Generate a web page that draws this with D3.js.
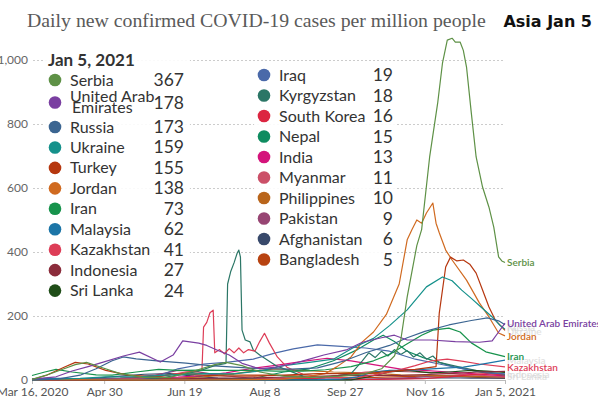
<!DOCTYPE html>
<html>
<head>
<meta charset="utf-8">
<script src="https://d3js.org/d3.v7.min.js"></script>
<style>
  body { margin: 0; background: #fff; }
  svg { font-family: Lato, "Open Sans", sans-serif; }
</style>
</head>
<body>
<svg id="chart" width="598" height="397"></svg>
<script>
// ---- data (values are new cases per million, 7-day avg) ----
// dates are "MM-DD"; January is 2021, everything else 2020
const countries = ["Serbia", "United Arab Emirates", "Russia", "Ukraine", "Turkey", "Jordan", "Iran",
  "Malaysia", "Kazakhstan", "Indonesia", "Sri Lanka", "Iraq", "Kyrgyzstan", "South Korea", "Nepal",
  "India", "Myanmar", "Philippines", "Pakistan", "Afghanistan", "Bangladesh"];
const latest = [367, 178, 173, 159, 155, 138, 73, 62, 41, 27, 24, 19, 18, 16, 15, 13, 11, 10, 9, 6, 5];
const colors = ["#5e9146", "#7a3fa1", "#3b6591", "#15918b", "#b6370f", "#d06a20", "#17934c",
  "#1c75a7", "#dd3d57", "#8b2c3b", "#1f4d18", "#4a69a9", "#2b7666", "#dc2641", "#0f8c60",
  "#d4137b", "#cb5068", "#b9651b", "#974573", "#38496b", "#b84311"];

const serbia = [["03-16",2],["03-25",15],["04-05",35],["04-12",48],["04-19",55],["04-28",40],["05-10",20],
  ["05-25",8],["06-10",8],["06-25",28],["07-08",48],["07-15",55],["07-25",45],["08-05",25],["08-20",12],
  ["09-05",8],["09-25",12],["10-10",20],["10-20",35],["10-28",75],["11-01",125],["11-05",260],["11-11",420],
  ["11-14",470],["11-19",697],["11-24",865],["11-27",990],["11-30",1062],["12-03",1068],["12-05",1056],
  ["12-08",1056],["12-10",1030],["12-12",978],["12-15",834],["12-18",697],["12-22",603],["12-26",540],
  ["12-29",478],["01-01",385],["01-03",372],["01-05",367]];
const uae = [["03-16",3],["03-31",10],["04-10",28],["04-20",42],["05-01",58],["05-12",75],["05-22",87],
  ["06-04",56],["06-12",78],["06-18",122],["06-28",115],["07-03",108],["07-10",92],["07-17",78],["07-25",52],
  ["08-05",35],["08-15",40],["08-25",50],["09-05",65],["09-14",78],["09-28",94],["10-08",118],["10-20",132],
  ["10-28",140],["11-05",125],["11-20",125],["12-05",120],["12-20",118],["12-28",122],["01-01",150],["01-05",178]];
const russia = [["03-16",0],["04-01",3],["04-15",15],["04-25",35],["05-05",60],["05-12",72],["05-20",66],
  ["06-02",60],["06-20",53],["07-05",45],["07-20",40],["08-05",36],["08-25",34],["09-10",38],["09-27",60],
  ["10-10",85],["10-25",108],["11-05",132],["11-16",152],["12-01",172],["12-15",186],["12-25",194],
  ["01-01",185],["01-05",173]];
const ukraine = [["03-16",0],["04-15",5],["05-01",10],["05-20",10],["06-10",16],["07-01",20],["07-20",19],
  ["08-05",28],["08-20",45],["09-05",55],["09-20",65],["10-02",100],["10-15",130],["10-25",170],["11-05",219],
  ["11-17",291],["11-27",322],["12-03",310],["12-09",281],["12-15",255],["12-21",228],["12-28",197],
  ["01-02",170],["01-05",159]];
const turkey = [["03-16",1],["03-25",15],["04-05",40],["04-12",55],["04-20",50],["05-01",30],["05-15",15],
  ["06-01",10],["06-12",18],["06-25",17],["07-10",13],["08-01",12],["08-20",15],["09-10",20],["09-25",20],
  ["10-10",20],["10-25",27],["11-10",33],["11-23",42],["11-25",209],["11-29",353],["12-02",384],
  ["12-06",372],["12-10",375],["12-14",362],["12-18",334],["12-22",281],["12-26",228],["12-30",187],
  ["01-03",166],["01-05",155]];
const jordan = [["03-16",0],["04-01",1],["05-01",0.5],["06-01",0.5],["07-01",0.5],["08-01",1],["08-20",3],
  ["09-01",8],["09-15",20],["09-22",41],["10-01",72],["10-08",119],["10-15",150],["10-23",205],["10-31",300],
  ["11-05",438],["11-08",470],["11-11",500],["11-14",490],["11-17",522],["11-21",553],["11-23",490],
  ["11-25",460],["11-29",406],["12-03",375],["12-12",312],["12-20",241],["12-26",197],["01-01",147],["01-05",138]];
const iran = [["03-16",14],["03-24",25],["03-31",33],["04-10",25],["04-25",16],["05-05",15],["05-20",25],
  ["06-03",33],["06-15",30],["07-01",31],["07-15",30],["08-01",30],["08-15",28],["09-01",28],["09-15",32],
  ["10-01",42],["10-15",60],["10-25",80],["11-04",110],["11-14",140],["11-21",156],["12-01",162],
  ["12-08",150],["12-15",116],["12-24",88],["01-05",73]];
const malaysia = [["03-16",3],["03-25",5],["04-05",5],["04-20",3],["05-10",2],["06-10",1],["07-10",0.5],
  ["08-10",0.5],["09-10",1],["09-25",3],["10-05",10],["10-15",25],["10-25",30],["11-05",30],["11-20",35],
  ["12-01",38],["12-10",40],["12-20",48],["12-28",55],["01-05",62]];
const kazakhstan = [["03-16",0],["04-10",1],["05-01",3],["05-20",5],["06-05",12],["06-20",25],["06-30",31],
  ["07-01",165],["07-03",180],["07-05",210],["07-07",218],["07-08",85],["07-11",95],["07-14",82],
  ["07-17",98],["07-20",85],["07-23",100],["07-26",85],["07-29",95],["08-02",90],["08-05",120],
  ["08-08",146],["08-11",116],["08-16",72],["08-22",40],["09-01",18],["09-15",8],["10-01",6],["10-15",15],
  ["10-30",30],["11-10",45],["11-20",60],["11-30",65],["12-10",58],["12-20",50],["01-05",41]];
const indonesia = [["03-16",0],["05-01",1],["06-01",2],["07-01",5],["08-01",7],["09-01",10],["10-01",15],
  ["11-01",14],["12-01",20],["12-20",25],["01-05",27]];
const sriLanka = [["03-16",0],["10-01",0.5],["10-10",8],["10-25",25],["11-05",30],["11-20",22],["12-01",25],
  ["12-15",30],["12-25",28],["01-05",24]];
const iraq = [["03-16",0],["05-01",1],["05-20",3],["06-01",10],["06-15",35],["07-01",50],["07-15",55],
  ["08-01",65],["08-15",85],["08-26",97],["09-10",110],["09-25",105],["10-10",100],["10-25",90],
  ["11-10",65],["11-25",50],["12-10",35],["12-25",22],["01-05",19]];
const kyrgyzstan = [["03-16",0],["04-15",2],["05-15",2],["06-01",4],["06-15",15],["06-28",28],["07-08",45],
  ["07-15",52],["07-16",300],["07-18",340],["07-20",366],["07-22",397],["07-23",406],["07-24",384],
  ["07-25",156],["07-27",125],["07-30",119],["08-01",94],["08-05",78],["08-15",45],["09-01",12],
  ["09-15",8],["10-01",20],["10-08",60],["10-12",85],["10-16",70],["10-20",90],["10-24",75],["10-28",95],
  ["11-01",80],["11-05",92],["11-09",72],["11-13",85],["11-17",65],["11-21",75],["11-25",55],["12-01",48],
  ["12-10",38],["12-20",28],["01-05",18]];
const southKorea = [["03-16",3],["04-01",2],["05-01",0.2],["06-01",0.7],["07-01",1],["08-15",3],["08-28",6],
  ["09-15",2.5],["10-15",1.5],["11-15",4],["12-01",10],["12-15",17],["12-25",20],["01-05",16]];
const nepal = [["03-16",0],["07-01",2],["08-01",5],["08-20",25],["09-05",35],["09-20",60],["10-05",95],
  ["10-15",125],["10-21",140],["10-28",120],["11-05",90],["11-15",70],["11-25",55],["12-05",40],
  ["12-20",25],["01-05",15]];
const india = [["03-16",0],["04-15",1],["05-15",3],["06-15",9],["07-01",14],["07-15",22],["08-01",37],
  ["08-15",46],["09-01",58],["09-16",68],["10-01",60],["10-15",48],["11-01",34],["11-15",30],["12-01",25],
  ["12-15",20],["01-05",13]];
const myanmar = [["03-16",0],["08-25",0.5],["09-10",5],["09-25",15],["10-10",25],["10-25",28],["11-10",25],
  ["11-25",22],["12-10",17],["01-05",11]];
const philippines = [["03-16",0.5],["04-10",2],["05-10",2],["06-10",5],["07-01",10],["07-20",20],
  ["08-05",30],["08-15",35],["09-01",30],["09-20",25],["10-10",22],["11-01",16],["11-20",14],["12-10",12],
  ["01-05",10]];
const pakistan = [["03-16",0.5],["04-15",2],["05-10",6],["06-01",15],["06-15",30],["06-25",28],["07-10",15],
  ["08-01",5],["08-20",3],["09-15",3],["10-15",3],["11-10",8],["11-25",14],["12-10",13],["01-05",9]];
const afghanistan = [["03-16",0],["04-15",2],["05-10",12],["05-25",18],["06-10",20],["06-25",12],
  ["07-10",6],["08-01",2],["09-01",1],["10-01",1],["11-10",5],["12-01",7],["12-15",6],["01-05",6]];
const bangladesh = [["03-16",0],["04-15",1],["05-10",5],["06-01",11],["06-20",22],["07-05",20],["07-20",16],
  ["08-10",15],["09-01",12],["09-20",9],["10-15",8],["11-15",12],["12-01",13],["12-15",9],["01-05",5]];

const seriesData = [serbia, uae, russia, ukraine, turkey, jordan, iran, malaysia, kazakhstan, indonesia,
  sriLanka, iraq, kyrgyzstan, southKorea, nepal, india, myanmar, philippines, pakistan, afghanistan, bangladesh];

const yTicks = [0, 200, 400, 600, 800, 1000];
const xTickDates = ["03-16", "04-30", "06-19", "08-08", "09-27", "11-16", "01-05"];
const xTickLabels = ["Mar 16, 2020", "Apr 30", "Jun 19", "Aug 8", "Sep 27", "Nov 16", "Jan 5, 2021"];

// ---- helpers ----
const parse = d3.timeParse("%Y-%m-%d");
function toDate(md) { return parse((md.startsWith("01") ? "2021-" : "2020-") + md); }

const svg = d3.select("#chart");

const x = d3.scaleTime().domain([toDate("03-16"), toDate("01-05")]).range([32, 505]);
const y = d3.scaleLinear().domain([0, 1000]).range([380, 60]);

// title
svg.append("text").attr("x", 27).attr("y", 27)
  .style("font-family", "Georgia, 'Liberation Serif', 'DejaVu Serif', serif")
  .style("font-size", "19.8px").attr("fill", "#5a5a5a")
  .text("Daily new confirmed COVID-19 cases per million people");
svg.append("text").attr("x", 592).attr("y", 27).attr("text-anchor", "end")
  .style("font-family", "'DejaVu Sans', sans-serif").style("font-weight", "bold")
  .style("font-size", "16px").attr("fill", "#111")
  .text("Asia Jan 5");

// y axis + grid
const yAxis = svg.append("g").attr("transform", "translate(33,0)")
  .call(d3.axisLeft(y).tickValues(yTicks).tickSize(-472).tickPadding(5).tickFormat(d3.format(",")));
yAxis.select(".domain").remove();
yAxis.selectAll(".tick line").attr("stroke", "#ccc").attr("stroke-dasharray", "2,2");
yAxis.selectAll(".tick text").attr("fill", "#666").style("font-size", "12px").style("font-family", "Lato, sans-serif");

// x axis
const xAxis = svg.append("g").attr("transform", "translate(0,380)")
  .call(d3.axisBottom(x).tickValues(xTickDates.map(toDate)).tickSize(4).tickPadding(3)
    .tickFormat((d, i) => xTickLabels[i]));
xAxis.select(".domain").attr("stroke", "#bbb");
xAxis.selectAll(".tick line").attr("stroke", "#bbb");
xAxis.selectAll(".tick text").attr("fill", "#555").style("font-size", "12px").style("font-family", "Lato, sans-serif");

// lines (smaller countries first so big ones sit on top)
const line = d3.line().x(d => x(toDate(d[0]))).y(d => y(d[1]));
const lines = svg.append("g");
for (let i = seriesData.length - 1; i >= 0; i--) {
  lines.append("path").datum(seriesData[i])
    .attr("d", line)
    .attr("fill", "none")
    .attr("stroke", colors[i])
    .attr("stroke-width", 1.2)
    .attr("stroke-linejoin", "round");
}

// end labels (some are faded out behind the others, as in the original)
const endLabels = [
  { name: "Serbia", ly: 266, faded: false },
  { name: "Russia", ly: 331, faded: true },
  { name: "Ukraine", ly: 335, faded: true },
  { name: "United Arab Emirates", ly: 327, faded: false },
  { name: "Jordan", ly: 339.5, faded: false },
  { name: "Malaysia", ly: 364, faded: true },
  { name: "Iran", ly: 360, faded: false },
  { name: "Indonesia", ly: 378, faded: true },
  { name: "Sri Lanka", ly: 380, faded: true },
  { name: "Kazakhstan", ly: 371, faded: false }
];
const labelG = svg.append("g").style("font-size", "10px").style("font-weight", "600");
endLabels.forEach(l => {
  const i = countries.indexOf(l.name);
  labelG.append("text")
    .attr("x", 507)
    .attr("y", l.ly)
    .attr("fill", l.faded ? "#d4d4d4" : colors[i])
    .attr("opacity", l.faded ? 0.7 : 1)
    .text(l.name);
});

// legend
const leftRows = countries.slice(0, 11);
const rightRows = countries.slice(11);
const leftY = [80, 102.5, 127];
for (let k = 3; k < leftRows.length; k++) leftY.push(127 + (k - 2) * 20.45);
const rightY = rightRows.map((d, k) => 75 + k * 20.5);

const legend = svg.append("g");
legend.append("rect").attr("x", 44).attr("y", 47).attr("width", 146).attr("height", 256)
  .attr("fill", "#fff").attr("opacity", 0.9);
legend.append("rect").attr("x", 254).attr("y", 64).attr("width", 142).attr("height", 208)
  .attr("fill", "#fff").attr("opacity", 0.9);
legend.append("text").attr("x", 48).attr("y", 66)
  .style("font-size", "17px").style("font-weight", "bold").attr("fill", "#333")
  .text("Jan 5, 2021");

function legendRow(name, cy, cx, valueX) {
  const i = countries.indexOf(name);
  const g = legend.append("g");
  g.append("circle").attr("cx", cx).attr("cy", cy).attr("r", 6.3).attr("fill", colors[i]);
  if (name === "United Arab Emirates") {
    g.append("text").attr("x", cx + 15).attr("y", cy - 0.5).style("font-size", "16px").attr("fill", "#333")
      .text("United Arab");
    g.append("text").attr("x", cx + 17).attr("y", cy + 10.5).style("font-size", "16px").attr("fill", "#333")
      .text("Emirates");
  } else {
    g.append("text").attr("x", cx + 15).attr("y", cy + 5.5).style("font-size", "16px").attr("fill", "#333")
      .text(name);
  }
  g.append("text").attr("x", valueX).attr("y", cy + 6).attr("text-anchor", "end")
    .style("font-size", "17.5px").attr("fill", "#333").text(latest[i]);
}
leftRows.forEach((n, k) => legendRow(n, leftY[k], 55, 184));
rightRows.forEach((n, k) => legendRow(n, rightY[k], 264, 393));
</script>
</body>
</html>
